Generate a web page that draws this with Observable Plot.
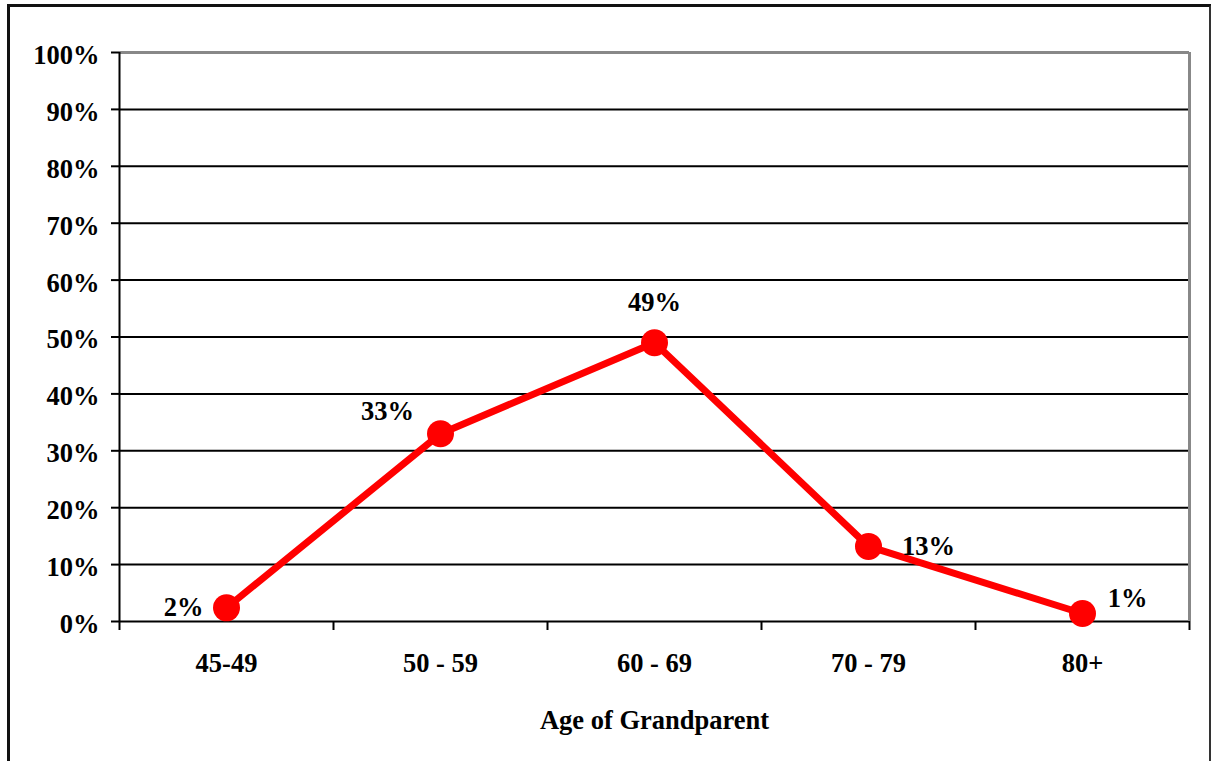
<!DOCTYPE html>
<html>
<head>
<meta charset="utf-8">
<script src="https://cdn.jsdelivr.net/npm/d3@7"></script>
<script src="https://cdn.jsdelivr.net/npm/@observablehq/plot@0.6"></script>
<style>
  html, body { margin: 0; padding: 0; background: white; overflow: hidden; }
  #wrap { position: relative; width: 1211px; height: 761px; }
  #frame { position: absolute; left: 7px; top: 4px; width: 1199px; height: 800px;
           border-left: 3px solid #111; border-top: 3px solid #111; border-right: 3px solid #333; pointer-events: none; }
</style>
</head>
<body>
<div id="wrap"><div id="frame"></div></div>
<script>
const categories = ["45-49", "50 - 59", "60 - 69", "70 - 79", "80+"];
const values = [2.4, 33, 49, 13.2, 1.4];
const yTicks = [0, 10, 20, 30, 40, 50, 60, 70, 80, 90, 100];
const xTitle = "Age of Grandparent";

const rows = categories.map((c, i) => ({cat: c, pos: i + 0.5, value: values[i]}));
const bounds = d3.range(categories.length + 1);
const labelPlacement = [
  {dx: -43, dy: 0},
  {dx: -53, dy: -22},
  {dx: 0, dy: -40},
  {dx: 60, dy: 0},
  {dx: 45, dy: -15}
];
const font = "'Liberation Serif', 'Times New Roman', serif";

const chart = Plot.plot({
  width: 1211,
  height: 761,
  marginLeft: 119,
  marginRight: 22,
  marginTop: 52,
  marginBottom: 140,
  style: {fontFamily: font, fontSize: "26px", fontWeight: "bold", background: "transparent"},
  x: {type: "linear", domain: [0, categories.length]},
  y: {domain: [0, 100]},
  marks: [
    Plot.ruleY(yTicks.filter(d => d < 100), {stroke: "black", strokeWidth: 2}),
    Plot.ruleY([100], {stroke: "#888", strokeWidth: 3}),
    Plot.ruleX([categories.length], {y1: 0, y2: 100, stroke: "#888", strokeWidth: 3}),
    Plot.ruleX([0], {y1: 0, y2: 100, stroke: "black", strokeWidth: 2}),
    Plot.axisY({ticks: yTicks, tickFormat: () => "", tickSize: 8, strokeWidth: 2, stroke: "black", label: null}),
    Plot.axisY({ticks: yTicks, tickFormat: d => d + "%", tickSize: 0, tickPadding: 20,
      fontSize: 26.5, fontWeight: "bold", label: null, dy: 3}),
    Plot.axisX({ticks: bounds, tickFormat: () => "", tickSize: 9, strokeWidth: 2, stroke: "black", label: null}),
    Plot.axisX({ticks: rows.map(d => d.pos), tickFormat: d => categories[Math.round(d - 0.5)],
      tickSize: 0, tickPadding: 32, fontSize: 26.5, fontWeight: "bold", label: null}),
    Plot.text([xTitle], {frameAnchor: "bottom", dy: 107, fontSize: 26.5, fontWeight: "bold", fill: "black"}),
    Plot.line(rows, {x: "pos", y: "value", stroke: "#ff0000", strokeWidth: 7}),
    Plot.dot(rows, {x: "pos", y: "value", r: 13.5, fill: "#ff0000", stroke: "none"}),
    ...rows.map((r, i) => Plot.text([r], {
      x: "pos", y: "value", text: d => Math.round(d.value) + "%",
      dx: labelPlacement[i].dx, dy: labelPlacement[i].dy,
      fontSize: 26.5, fontWeight: "bold", fill: "black"
    }))
  ]
});
document.getElementById("wrap").prepend(chart);
</script>
</body>
</html>
